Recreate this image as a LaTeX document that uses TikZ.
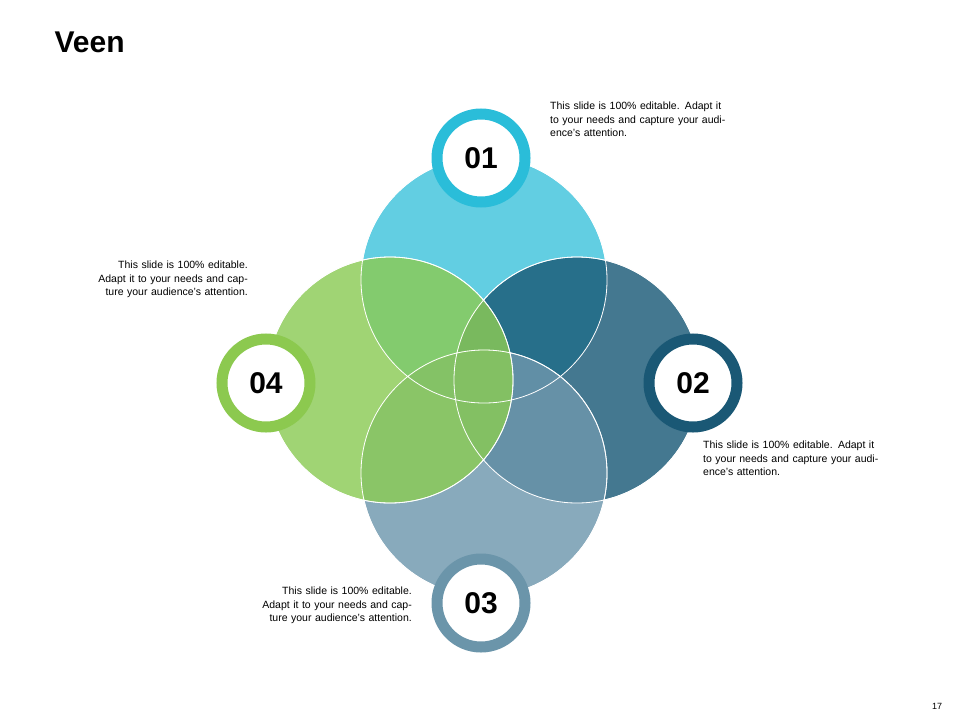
\documentclass[tikz,border=0pt]{standalone}
\usepackage{fontspec}
\setmainfont{Liberation Sans}
\begin{document}
\begin{tikzpicture}[x=1pt,y=-1pt]
\definecolor{cA}{HTML}{3FC3DC}
\definecolor{cB}{HTML}{1B5A77}
\definecolor{cC}{HTML}{6E97AD}
\definecolor{cD}{HTML}{8BCB55}
\definecolor{bA}{HTML}{2ABDD9}
\definecolor{bB}{HTML}{1A5875}
\definecolor{bC}{HTML}{6B95AA}
\definecolor{bD}{HTML}{8CC94F}
\tikzset{venn/.style={draw=white,line width=0.8pt,fill opacity=0.82},
 badge/.style={circle,minimum size=98pt,line width=11pt,fill=white,font=\bfseries\fontsize{30}{32}\selectfont},
 txt/.style={font=\fontsize{10.5}{13.5}\selectfont,text width=185pt,inner sep=0pt}}
\useasboundingbox (0,0) rectangle (960,720);
\node[anchor=west,font=\bfseries\fontsize{30}{34}\selectfont] (title) at (51,42) {Veen};
\fill[venn,fill=cA] (484,280) circle (123);
\fill[venn,fill=cB] (577,380) circle (123);
\fill[venn,fill=cC] (484,473) circle (123);
\fill[venn,fill=cD] (390,380) circle (123);
\draw[white,line width=0.8pt] (484,280) circle (123) (577,380) circle (123) (484,473) circle (123) (390,380) circle (123);
\node[badge,draw=bA,minimum size=88pt] (n1) at (481,158) {01};
\node[badge,draw=bB,minimum size=88pt] (n2) at (693,383) {02};
\node[badge,draw=bC,minimum size=88pt] (n3) at (481,603) {03};
\node[badge,draw=bD,minimum size=88pt] (n4) at (266,383) {04};
\node[txt,anchor=north west,align=left] (t1) at (550,102) {This slide is 100\% editable. Adapt it to your needs and capture your audience's attention.};
\node[txt,anchor=north west,align=left] (t2) at (703,441) {This slide is 100\% editable. Adapt it to your needs and capture your audience's attention.};
\node[txt,anchor=north east,align=right] (t3) at (412,587) {This slide is 100\% editable. Adapt it to your needs and capture your audience's attention.};
\node[txt,anchor=north east,align=right] (t4) at (248,261) {This slide is 100\% editable. Adapt it to your needs and capture your audience's attention.};
\node[font=\fontsize{9}{10}\selectfont] (pg) at (937,706) {17};
\end{tikzpicture}
\end{document}
